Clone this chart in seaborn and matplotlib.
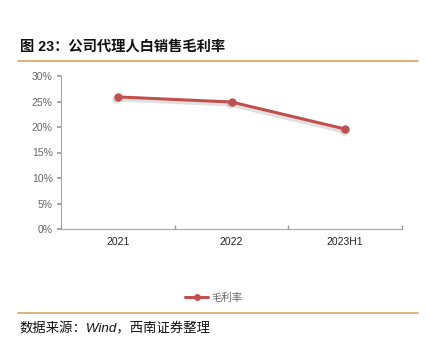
import matplotlib
matplotlib.use("Agg")
import matplotlib.pyplot as plt
import seaborn as sns
import pandas as pd
import numpy as np
from matplotlib.lines import Line2D
from matplotlib.ticker import FixedLocator, PercentFormatter

categories = ["2021", "2022", "2023H1"]
gross_margin = [25.9, 24.9, 19.6]
series_name = "毛利率"
title = "图 23：公司代理人白销售毛利率"
source = "数据来源：Wind，西南证券整理"

sns.set_theme(style="white")
plt.rcParams['font.family'] = ['Liberation Sans', 'Noto Sans CJK SC', 'DejaVu Sans']

df = pd.DataFrame({"x": np.arange(len(categories)) + 0.5, "y": gross_margin})

fig = plt.figure(figsize=(4.28, 3.48), dpi=100)
ax = fig.add_axes([61/428, (348-229)/348, 341/428, 153/348])

red = "#C0504D"
# soft shadow under the line
sns.lineplot(data=df, x="x", y="y", ax=ax, color="#888888", alpha=0.25, linewidth=3.5,
             marker="o", markersize=6, markeredgewidth=0, legend=False,
             transform=matplotlib.transforms.offset_copy(ax.transData, fig=fig, x=-1.0, y=-1.5, units='points'))
sns.lineplot(data=df, x="x", y="y", ax=ax, color=red, linewidth=2.2,
             marker="o", markersize=6, markeredgewidth=0, legend=False)

ax.set_xlim(0, 3)
ax.set_ylim(0, 30)
ax.set_yticks(range(0, 31, 5))
ax.yaxis.set_major_formatter(PercentFormatter(decimals=0))
ax.set_xticks(df["x"])
ax.set_xticklabels(categories)
ax.xaxis.set_minor_locator(FixedLocator([0, 1, 2, 3]))
ax.tick_params(axis="x", which="major", length=0, labelsize=7.5, labelcolor="#222222", pad=6)
ax.tick_params(axis="x", which="minor", length=3, direction="in", color="#999999", bottom=True)
ax.tick_params(axis="y", which="major", length=3, direction="out", color="#999999", left=True,
               labelsize=7.5, labelcolor="#666666", pad=3)
ax.set_xlabel("")
ax.set_ylabel("")
for s in ["top", "right"]:
    ax.spines[s].set_visible(False)
for s in ["left", "bottom"]:
    ax.spines[s].set_color("#A6A6A6")
    ax.spines[s].set_linewidth(0.8)

handle = Line2D([], [], color=red, linewidth=2.2, marker="o", markersize=5, markeredgewidth=0)
fig.legend([handle], [series_name], loc="center", bbox_to_anchor=(214/428, 1-298/348),
           frameon=False, fontsize=7.5, labelcolor="#666666", handlelength=2.2, handletextpad=0.3)

fig.text(20/428, 1-47/348, title, fontsize=10.3, fontweight="bold", color="#111111", va="center", ha="left")
fig.add_artist(Line2D([18/428, 418/428], [1-61/348, 1-61/348], color="#D4A55E", linewidth=1.2))
fig.add_artist(Line2D([18/428, 418/428], [1-313/348, 1-313/348], color="#D4A55E", linewidth=1.2))
fig.text(20/428, 1-329/348, source, fontsize=9.6, style="italic", color="#111111", va="center", ha="left")

fig.savefig("out.png", dpi=100)
